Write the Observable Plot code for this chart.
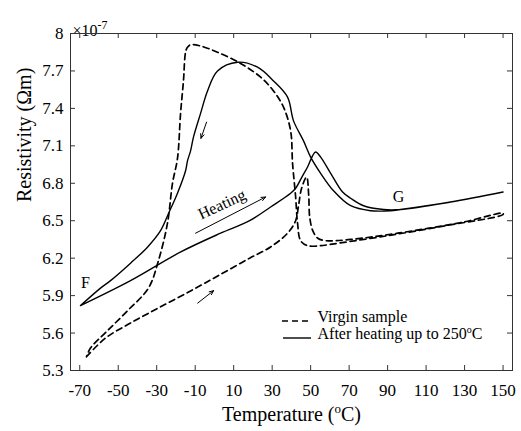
<!DOCTYPE html>
<html><head><meta charset="utf-8">
<script src="https://cdn.jsdelivr.net/npm/d3@7"></script>
<script src="https://cdn.jsdelivr.net/npm/@observablehq/plot@0.6"></script>
<style>body{margin:0;background:#fff}</style>
</head><body><div id="chart"></div>
<script>
// ---- data ----
const xTicks = [-70, -50, -30, -10, 10, 30, 50, 70, 90, 110, 130, 150];
const yTicks = [5.3, 5.6, 5.9, 6.2, 6.5, 6.8, 7.1, 7.4, 7.7, 8];

// Virgin sample: heating branch then cooling branch (one closed path)
const virginT = [-66.5, -56.6, -43.6, -28.0, -10.9, 3.2, 18.3, 29.2, 38.0, 42.2, 43.7, 45.3, 47.9, 49.0, 49.5, 51.1, 53.7, 57.8, 70.8, 95.2, 129.5, 150,
  150, 120, 90, 60, 55.2, 48.4, 44.8, 43.2, 42.2, 40.6, 39.6, 35.9, 30.7, 24.0, 13.6, 1.6, -7.2, -12.4, -14.0, -15.0, -16.1, -17.6, -19.2, -21.8, -24.4, -29.1, -34.3, -45.1, -55.5, -64.4, -66.5];
const virginR = [5.41, 5.56, 5.68, 5.81, 5.95, 6.07, 6.20, 6.29, 6.40, 6.50, 6.62, 6.76, 6.85, 6.70, 6.53, 6.42, 6.36, 6.34, 6.35, 6.40, 6.49, 6.56,
  6.55, 6.46, 6.38, 6.31, 6.30, 6.30, 6.34, 6.48, 6.69, 6.96, 7.22, 7.41, 7.54, 7.65, 7.76, 7.85, 7.90, 7.91, 7.89, 7.85, 7.62, 7.36, 7.00, 6.80, 6.48, 6.18, 5.96, 5.78, 5.62, 5.48, 5.41];

// After heating up to 250 °C: heating branch then cooling branch
const heatedT = [-69.6, -43.6, -17.5, 3.2, 18.3, 29.2, 39.6, 42.2, 45.8, 48.4, 51.0, 52.6, 55.2, 60.4, 66.6, 70.8, 77.5, 87.9, 96.7, 122.7, 150,
  150, 122.7, 96.7, 91.5, 81.1, 70.8, 61.9, 55.2, 50.0, 46.3, 41.1, 38.0, 30.7, 22.4, 12.0, 1.6, -3.6, -7.2, -10.9, -12.4, -14.0, -15.0, -19.2, -23.8, -28.0, -34.7, -43.6, -54.0, -59.2, -69.6];
const heatedR = [5.82, 6.02, 6.25, 6.40, 6.50, 6.61, 6.72, 6.76, 6.86, 6.93, 7.02, 7.05, 7.01, 6.88, 6.73, 6.68, 6.62, 6.59, 6.59, 6.65, 6.73,
  6.73, 6.65, 6.59, 6.58, 6.58, 6.62, 6.74, 6.88, 7.01, 7.14, 7.30, 7.49, 7.62, 7.73, 7.77, 7.70, 7.54, 7.36, 7.17, 7.06, 6.98, 6.90, 6.72, 6.56, 6.42, 6.29, 6.16, 6.02, 5.96, 5.82];

const seriesNames = ["Virgin sample", "After heating up to 250°C"];
const pointLabels = [{t: -67, r: 6.0, text: "F"}, {t: 95.7, r: 6.69, text: "G"}];
const noteLabels = [{t: 3.9, r: 6.63, text: "Heating"}];
const arrows = [
  {t1: -9.8, r1: 6.40, t2: 26.6, r2: 6.69},
  {t1: -8.7, r1: 5.84, t2: -0.4, r2: 5.94},
  {t1: -4.1, r1: 7.29, t2: -7.0, r2: 7.16}
];

// ---- layout ----
const W = 521, H = 431;
const mL = 70, mR = 9, mT = 33, mB = 61;
const xDomain = [-74.8, 154.9], yDomain = [5.3, 8];
const font = "'Liberation Serif', 'Times New Roman', serif";

const virgin = virginT.map((t, i) => ({t, r: virginR[i]}));
const heated = heatedT.map((t, i) => ({t, r: heatedR[i]}));

const tick = 5;
const txLen = tick * (xDomain[1] - xDomain[0]) / (W - mL - mR);
const tyLen = tick * (yDomain[1] - yDomain[0]) / (H - mT - mB);

const plot = Plot.plot({
  width: W, height: H,
  marginLeft: mL, marginRight: mR, marginTop: mT, marginBottom: mB,
  style: {fontFamily: font, background: "#fff", color: "#000"},
  x: {domain: xDomain},
  y: {domain: yDomain},
  marks: [
    Plot.ruleX(xTicks, {x: d => d, y1: yDomain[0], y2: yDomain[0] + tyLen, stroke: "#333"}),
    Plot.ruleX(xTicks, {x: d => d, y1: yDomain[1], y2: yDomain[1] - tyLen, stroke: "#333"}),
    Plot.ruleY(yTicks, {y: d => d, x1: xDomain[0], x2: xDomain[0] + txLen, stroke: "#333"}),
    Plot.ruleY(yTicks, {y: d => d, x1: xDomain[1], x2: xDomain[1] - txLen, stroke: "#333"}),
    Plot.axisX({ticks: xTicks, tickSize: 0, tickPadding: 13, tickFormat: d => String(d), fontSize: 17, label: null}),
    Plot.axisY({ticks: yTicks, tickSize: 0, tickPadding: 7, tickFormat: d => String(d), fontSize: 17, label: null}),
    Plot.line(virgin, {x: "t", y: "r", stroke: "#000", strokeWidth: 1.7, strokeDasharray: "6,4", curve: "catmull-rom"}),
    Plot.line(heated, {x: "t", y: "r", stroke: "#000", strokeWidth: 1.4, curve: "catmull-rom"}),
    Plot.arrow(arrows, {x1: "t1", y1: "r1", x2: "t2", y2: "r2", stroke: "#000", strokeWidth: 1, headLength: 7, headAngle: 45}),
    Plot.text(pointLabels, {x: "t", y: "r", text: "text", fontSize: 16}),
    Plot.text(noteLabels, {x: "t", y: "r", text: "text", fontSize: 16, rotate: -25}),
    Plot.text(["Temperature (°C)"], {frameAnchor: "bottom", dy: 50, fontSize: 20}),
    Plot.text(["Resistivity (Ωm)"], {frameAnchor: "left", dx: -46, rotate: -90, fontSize: 20}),
    Plot.text(["×10-7"], {frameAnchor: "top-left", dx: 2, dy: -9, textAnchor: "start", fontSize: 16}),
    Plot.text([seriesNames[0]], {frameAnchor: "bottom-right", dx: -195, dy: -49, textAnchor: "start", fontSize: 16}),
    Plot.text([seriesNames[1]], {frameAnchor: "bottom-right", dx: -195, dy: -32, textAnchor: "start", fontSize: 16}),
    Plot.frame({stroke: "#333", strokeWidth: 1})
  ]
});
document.getElementById("chart").appendChild(plot);

// legend line samples + superscripts
const svg = d3.select(plot);
const right = W - mR, bottom = H - mB;
svg.append("line").attr("x1", right - 230).attr("x2", right - 200).attr("y1", bottom - 49).attr("y2", bottom - 49)
  .attr("stroke", "#000").attr("stroke-width", 1.7).attr("stroke-dasharray", "6,4");
svg.append("line").attr("x1", right - 229).attr("x2", right - 201).attr("y1", bottom - 32).attr("y2", bottom - 32)
  .attr("stroke", "#000").attr("stroke-width", 1.4);

svg.selectAll("text").each(function() {
  const s = this.textContent;
  if (s.includes("°C")) {
    const fs = parseFloat(getComputedStyle(this).fontSize) || 17;
    const sup = Math.round(fs * 0.65), sh = Math.round(fs * 0.4);
    const [a, b] = s.split("°");
    this.innerHTML = `${a}<tspan font-size="${sup}" dy="-${sh}">o</tspan><tspan dy="${sh}">${b}</tspan>`;
  } else if (s === "×10-7") {
    this.innerHTML = `×10<tspan font-size="12" dy="-7">-7</tspan>`;
  }
});
</script></body></html>
